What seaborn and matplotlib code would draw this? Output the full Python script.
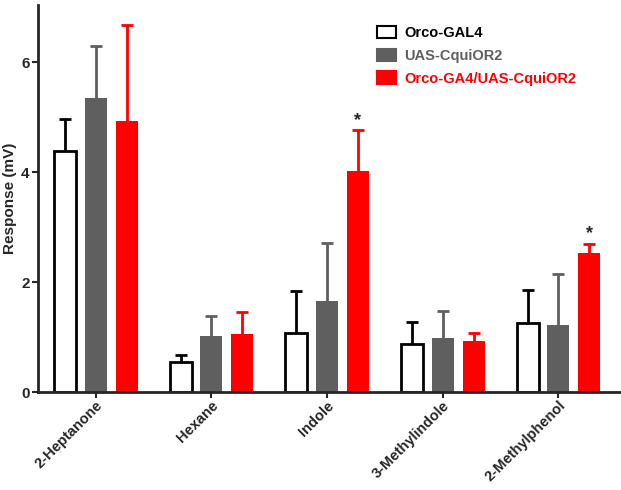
import pandas as pd
import numpy as np
import matplotlib
matplotlib.use("Agg")
import matplotlib.pyplot as plt
import seaborn as sns
from matplotlib.patches import Patch

# Data
odorants = ["2-Heptanone", "Hexane", "Indole", "3-Methylindole", "2-Methylphenol"]
genotypes = ["Orco-GAL4", "UAS-CquiOR2", "Orco-GA4/UAS-CquiOR2"]
orco_mean = [4.38, 0.54, 1.07, 0.88, 1.25]
orco_sem = [0.58, 0.13, 0.76, 0.40, 0.60]
uas_mean = [5.35, 1.02, 1.66, 0.99, 1.22]
uas_sem = [0.94, 0.37, 1.05, 0.48, 0.93]
cross_mean = [4.93, 1.05, 4.02, 0.93, 2.52]
cross_sem = [1.74, 0.40, 0.74, 0.15, 0.18]
significant = ["Indole", "2-Methylphenol"]

colors = ["white", "#5f5f5f", "#ff0000"]
text_colors = ["black", "#5f5f5f", "#ff0000"]

df = pd.DataFrame({
    "odorant": odorants * 3,
    "genotype": np.repeat(genotypes, len(odorants)),
    "mean": orco_mean + uas_mean + cross_mean,
    "sem": orco_sem + uas_sem + cross_sem,
})

sns.set_style("ticks")
plt.rcParams["font.family"] = ["Liberation Sans", "DejaVu Sans"]
plt.rcParams["font.weight"] = "bold"

fig = plt.figure(figsize=(6.21, 4.90), dpi=100)
ax = fig.add_axes([0.061, 0.2, 0.937, 0.79])

sns.barplot(data=df, x="odorant", y="mean", hue="genotype", order=odorants,
            hue_order=genotypes, palette=colors, saturation=1, gap=0.29,
            errorbar=None, ax=ax, legend=False, zorder=2)

# style bars and add one-sided error bars
n = len(odorants)
for i, g in enumerate(genotypes):
    sub = df[df["genotype"] == g].set_index("odorant").loc[odorants]
    patches = ax.patches[i * n:(i + 1) * n]
    for p, (od, row) in zip(patches, sub.iterrows()):
        if i == 0:
            p.set_edgecolor("black")
            p.set_linewidth(2)
        else:
            p.set_edgecolor(colors[i])
            p.set_linewidth(0)
        xc = p.get_x() + p.get_width() / 2
        ecol = "black" if i == 0 else colors[i]
        eb = ax.errorbar(xc, row["mean"], yerr=[[0], [row["sem"]]], fmt="none",
                         ecolor=ecol, elinewidth=2, capsize=4.5, capthick=2, zorder=1)
        # keep only the upper cap
        eb[1][0].set_visible(False)
        if i == 2 and od in significant:
            ax.text(xc, row["mean"] + row["sem"] + 0.02, "*", ha="center",
                    va="bottom", fontsize=13, fontweight="bold")

ax.set_ylim(0, 7.04)
ax.set_xlim(-0.5, 4.53)
ax.set_yticks([0, 2, 4, 6])
ax.set_ylabel("Response (mV)", fontsize=11, fontweight="bold", labelpad=3)
ax.set_xlabel("")
ax.tick_params(axis="both", width=1.5, length=4, labelsize=11, pad=2)
ax.tick_params(axis="x", pad=0.5, labelsize=10.5)
plt.setp(ax.get_xticklabels(), rotation=45, ha="right", rotation_mode="anchor",
         fontweight="bold")
plt.setp(ax.get_yticklabels(), fontweight="bold")
for s in ["left", "bottom"]:
    ax.spines[s].set_linewidth(2)
sns.despine(ax=ax)

handles = [Patch(facecolor=c, edgecolor="black" if c == "white" else c, linewidth=1.5)
           for c in colors]
leg = ax.legend(handles, genotypes, loc="upper left", bbox_to_anchor=(0.56, 0.98),
                frameon=False, fontsize=10.5, handlelength=1.3, handleheight=0.9,
                labelspacing=0.6, handletextpad=0.6)
for t, c in zip(leg.get_texts(), text_colors):
    t.set_color(c)
    t.set_fontweight("bold")

fig.savefig("out.png", dpi=100)
